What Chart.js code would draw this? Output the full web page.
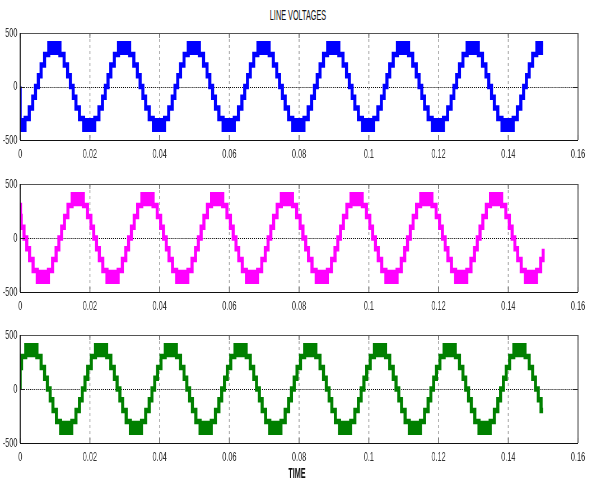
<!DOCTYPE html>
<html>
<head>
<meta charset="utf-8">
<script src="https://cdn.jsdelivr.net/npm/chart.js@4/dist/chart.umd.min.js"></script>
<style>
  html, body { margin: 0; padding: 0; background: #fff; }
  #wrap { position: relative; width: 592px; height: 482px; overflow: hidden; background: #fff; }
  canvas { position: absolute; left: 0; }
  .lbl {
    position: absolute; white-space: nowrap; line-height: 1;
    font-family: 'Liberation Sans', Arial, sans-serif; font-size: 14px; color: #111;
    transform: translate(-50%, -50%) scaleX(0.52);
  }
</style>
</head>
<body>
<div id="wrap">
  <div class="lbl" style="left:298px; top:15px;">LINE VOLTAGES</div>
  <canvas id="c1" width="1057" height="172" style="top:0px; width:592px; height:172px;"></canvas>
  <canvas id="c2" width="1057" height="157" style="top:165px; width:592px; height:157px;"></canvas>
  <canvas id="c3" width="1057" height="167" style="top:315px; width:592px; height:167px;"></canvas>
  <div class="lbl" style="left:297px; top:473px; font-weight:bold;">TIME</div>
</div>
<script>
// Axis ticks
const xTicks = [0, 0.02, 0.04, 0.06, 0.08, 0.10, 0.12, 0.14, 0.16];
const xTickLabels = ['0', '0.02', '0.04', '0.06', '0.08', '0.1', '0.12', '0.14', '0.16'];
const yTicks = [-500, 0, 500];
const yTickLabels = ['-500', '0', '500'];

// Line voltage staircases: switching instants (ms) and the level (V) that starts there
const timeAB = [0, 0, 1.4, 2.6, 3.6,
  4.4, 5.2, 6.0, 7.0, 8.2, 11.4, 12.6, 13.6, 14.4, 15.2, 16.0, 17.0, 18.2, 21.4, 22.6, 23.6,
  24.4, 25.2, 26.0, 27.0, 28.2, 31.4, 32.6, 33.6, 34.4, 35.2, 36.0, 37.0, 38.2, 41.4, 42.6, 43.6,
  44.4, 45.2, 46.0, 47.0, 48.2, 51.4, 52.6, 53.6, 54.4, 55.2, 56.0, 57.0, 58.2, 61.4, 62.6, 63.6,
  64.4, 65.2, 66.0, 67.0, 68.2, 71.4, 72.6, 73.6, 74.4, 75.2, 76.0, 77.0, 78.2, 81.4, 82.6, 83.6,
  84.4, 85.2, 86.0, 87.0, 88.2, 91.4, 92.6, 93.6, 94.4, 95.2, 96.0, 97.0, 98.2, 101.4, 102.6, 103.6,
  104.4, 105.2, 106.0, 107.0, 108.2, 111.4, 112.6, 113.6, 114.4, 115.2, 116.0, 117.0, 118.2, 121.4, 122.6, 123.6,
  124.4, 125.2, 126.0, 127.0, 128.2, 131.4, 132.6, 133.6, 134.4, 135.2, 136.0, 137.0, 138.2, 141.4, 142.6, 143.6,
  144.4, 145.2, 146.0, 147.0, 148.2, 150];
const voltAB = [0, -400, -300, -200, -100,
  0, 100, 200, 300, 400, 300, 200, 100, 0, -100, -200, -300, -400, -300, -200, -100,
  0, 100, 200, 300, 400, 300, 200, 100, 0, -100, -200, -300, -400, -300, -200, -100,
  0, 100, 200, 300, 400, 300, 200, 100, 0, -100, -200, -300, -400, -300, -200, -100,
  0, 100, 200, 300, 400, 300, 200, 100, 0, -100, -200, -300, -400, -300, -200, -100,
  0, 100, 200, 300, 400, 300, 200, 100, 0, -100, -200, -300, -400, -300, -200, -100,
  0, 100, 200, 300, 400, 300, 200, 100, 0, -100, -200, -300, -400, -300, -200, -100,
  0, 100, 200, 300, 400, 300, 200, 100, 0, -100, -200, -300, -400, -300, -200, -100,
  0, 100, 200, 300, 400, 400];

const timeBC = [0, 0.1, 0.3, 1.1, 1.9, 2.7, 3.7, 4.9, 8.1, 9.3, 10.3,
  11.1, 11.9, 12.7, 13.7, 14.9, 18.1, 19.3, 20.3, 21.1, 21.9, 22.7, 23.7, 24.9, 28.1, 29.3, 30.3,
  31.1, 31.9, 32.7, 33.7, 34.9, 38.1, 39.3, 40.3, 41.1, 41.9, 42.7, 43.7, 44.9, 48.1, 49.3, 50.3,
  51.1, 51.9, 52.7, 53.7, 54.9, 58.1, 59.3, 60.3, 61.1, 61.9, 62.7, 63.7, 64.9, 68.1, 69.3, 70.3,
  71.1, 71.9, 72.7, 73.7, 74.9, 78.1, 79.3, 80.3, 81.1, 81.9, 82.7, 83.7, 84.9, 88.1, 89.3, 90.3,
  91.1, 91.9, 92.7, 93.7, 94.9, 98.1, 99.3, 100.3, 101.1, 101.9, 102.7, 103.7, 104.9, 108.1, 109.3, 110.3,
  111.1, 111.9, 112.7, 113.7, 114.9, 118.1, 119.3, 120.3, 121.1, 121.9, 122.7, 123.7, 124.9, 128.1, 129.3, 130.3,
  131.1, 131.9, 132.7, 133.7, 134.9, 138.1, 139.3, 140.3, 141.1, 141.9, 142.7, 143.7, 144.9, 148.1, 149.3, 150];
const voltBC = [300, 200, 100, 0, -100, -200, -300, -400, -300, -200, -100,
  0, 100, 200, 300, 400, 300, 200, 100, 0, -100, -200, -300, -400, -300, -200, -100,
  0, 100, 200, 300, 400, 300, 200, 100, 0, -100, -200, -300, -400, -300, -200, -100,
  0, 100, 200, 300, 400, 300, 200, 100, 0, -100, -200, -300, -400, -300, -200, -100,
  0, 100, 200, 300, 400, 300, 200, 100, 0, -100, -200, -300, -400, -300, -200, -100,
  0, 100, 200, 300, 400, 300, 200, 100, 0, -100, -200, -300, -400, -300, -200, -100,
  0, 100, 200, 300, 400, 300, 200, 100, 0, -100, -200, -300, -400, -300, -200, -100,
  0, 100, 200, 300, 400, 300, 200, 100, 0, -100, -200, -300, -400, -300, -200, -100];

const timeCA = [0, 0, 0.4, 1.6, 4.8, 6.0, 7.0, 7.8, 8.6, 9.4, 10.4, 11.6, 14.8, 16.0, 17.0,
  17.8, 18.6, 19.4, 20.4, 21.6, 24.8, 26.0, 27.0, 27.8, 28.6, 29.4, 30.4, 31.6, 34.8, 36.0, 37.0,
  37.8, 38.6, 39.4, 40.4, 41.6, 44.8, 46.0, 47.0, 47.8, 48.6, 49.4, 50.4, 51.6, 54.8, 56.0, 57.0,
  57.8, 58.6, 59.4, 60.4, 61.6, 64.8, 66.0, 67.0, 67.8, 68.6, 69.4, 70.4, 71.6, 74.8, 76.0, 77.0,
  77.8, 78.6, 79.4, 80.4, 81.6, 84.8, 86.0, 87.0, 87.8, 88.6, 89.4, 90.4, 91.6, 94.8, 96.0, 97.0,
  97.8, 98.6, 99.4, 100.4, 101.6, 104.8, 106.0, 107.0, 107.8, 108.6, 109.4, 110.4, 111.6, 114.8, 116.0, 117.0,
  117.8, 118.6, 119.4, 120.4, 121.6, 124.8, 126.0, 127.0, 127.8, 128.6, 129.4, 130.4, 131.6, 134.8, 136.0, 137.0,
  137.8, 138.6, 139.4, 140.4, 141.6, 144.8, 146.0, 147.0, 147.8, 148.6, 149.4, 150];
const voltCA = [0, 200, 300, 400, 300, 200, 100, 0, -100, -200, -300, -400, -300, -200, -100,
  0, 100, 200, 300, 400, 300, 200, 100, 0, -100, -200, -300, -400, -300, -200, -100,
  0, 100, 200, 300, 400, 300, 200, 100, 0, -100, -200, -300, -400, -300, -200, -100,
  0, 100, 200, 300, 400, 300, 200, 100, 0, -100, -200, -300, -400, -300, -200, -100,
  0, 100, 200, 300, 400, 300, 200, 100, 0, -100, -200, -300, -400, -300, -200, -100,
  0, 100, 200, 300, 400, 300, 200, 100, 0, -100, -200, -300, -400, -300, -200, -100,
  0, 100, 200, 300, 400, 300, 200, 100, 0, -100, -200, -300, -400, -300, -200, -100,
  0, 100, 200, 300, 400, 300, 200, 100, 0, -100, -200, -200];

const TOP_LEVEL = 400;   // outermost level; PWM chops between it and the next one down
const LEVEL_STEP = 100;
const FONT = "'Liberation Sans', Arial, sans-serif";

// staircase points in seconds
function stairs(times, volts) {
  return times.map((t, i) => ({ x: t / 1000, y: volts[i] }));
}

// segments where the output is chopping between the two outermost levels
function chopBands(times, volts) {
  const out = [];
  for (let i = 0; i < volts.length - 1; i++) {
    if (Math.abs(volts[i]) === TOP_LEVEL) {
      const mid = volts[i] - Math.sign(volts[i]) * LEVEL_STEP / 2;
      out.push({ x: times[i] / 1000, y: mid });
      out.push({ x: times[i + 1] / 1000, y: mid });
      out.push({ x: times[i + 1] / 1000, y: null });
    }
  }
  return out;
}

// MATLAB-style box, dashed x grid, dotted zero line and inward tick marks
const axesBox = {
  id: 'axesBox',
  beforeDatasetsDraw(chart) {
    const { ctx, chartArea: a, scales: { x, y } } = chart;
    ctx.save();
    ctx.strokeStyle = '#a6a6a6';
    ctx.lineWidth = 1.7;
    ctx.setLineDash([3, 3]);
    x.ticks.forEach(t => {
      const px = x.getPixelForValue(t.value);
      if (px <= a.left + 1 || px >= a.right - 1) return;
      ctx.beginPath();
      ctx.moveTo(px, a.top);
      ctx.lineTo(px, a.bottom);
      ctx.stroke();
    });
    const y0 = Math.round(y.getPixelForValue(0)) + 0.5;
    ctx.strokeStyle = '#000';
    ctx.lineWidth = 1;
    ctx.setLineDash([1.8, 1.8]);
    ctx.beginPath();
    ctx.moveTo(a.left, y0);
    ctx.lineTo(a.right, y0);
    ctx.stroke();
    ctx.restore();
  },
  afterDatasetsDraw(chart) {
    const { ctx, chartArea: a, scales: { x, y } } = chart;
    ctx.save();
    ctx.setLineDash([]);
    // tick marks
    ctx.strokeStyle = '#777';
    ctx.lineWidth = 1.7;
    x.ticks.forEach(t => {
      const px = x.getPixelForValue(t.value);
      ctx.beginPath();
      ctx.moveTo(px, a.bottom); ctx.lineTo(px, a.bottom - 5);
      ctx.moveTo(px, a.top); ctx.lineTo(px, a.top + 5);
      ctx.stroke();
    });
    ctx.strokeStyle = '#222';
    ctx.lineWidth = 1;
    y.ticks.forEach(t => {
      const py = Math.round(y.getPixelForValue(t.value)) + 0.5;
      ctx.beginPath();
      ctx.moveTo(a.left, py); ctx.lineTo(a.left + 9, py);
      ctx.moveTo(a.right, py); ctx.lineTo(a.right - 9, py);
      ctx.stroke();
    });
    // box
    const t = Math.round(a.top) + 0.5, b = Math.round(a.bottom) + 0.5;
    ctx.strokeStyle = '#555';
    ctx.lineWidth = 1;
    ctx.beginPath(); ctx.moveTo(a.left, t); ctx.lineTo(a.right, t); ctx.stroke();
    ctx.lineWidth = 1.8;
    ctx.beginPath(); ctx.moveTo(a.right, a.top); ctx.lineTo(a.right, a.bottom); ctx.stroke();
    ctx.strokeStyle = '#111';
    ctx.lineWidth = 1;
    ctx.beginPath(); ctx.moveTo(a.left, b); ctx.lineTo(a.right, b); ctx.stroke();
    ctx.lineWidth = 1.8;
    ctx.beginPath(); ctx.moveTo(a.left, a.top); ctx.lineTo(a.left, a.bottom); ctx.stroke();
    ctx.restore();
  }
};

function makeChart(id, times, volts, color, pad) {
  return new Chart(document.getElementById(id), {
    type: 'line',
    data: {
      datasets: [
        { data: stairs(times, volts), stepped: 'before', borderColor: color, borderWidth: 5.5,
          borderJoinStyle: 'miter', pointRadius: 0, fill: false },
        { data: chopBands(times, volts), borderColor: color, borderWidth: 12,
          borderCapStyle: 'butt', pointRadius: 0, fill: false, spanGaps: false }
      ]
    },
    options: {
      responsive: false,
      animation: false,
      devicePixelRatio: 1,
      events: [],
      layout: { padding: pad },
      plugins: { legend: { display: false }, tooltip: { enabled: false }, title: { display: false } },
      scales: {
        x: {
          type: 'linear', min: 0, max: 0.16, offset: false,
          grid: { display: false, drawTicks: false }, border: { display: false },
          afterBuildTicks: s => { s.ticks = xTicks.map(v => ({ value: v })); },
          afterFit: s => { s.height = 28; },
          ticks: { autoSkip: false, maxRotation: 0, padding: 7, color: '#333',
                   font: { family: FONT, size: 13 },
                   callback: (v, i) => xTickLabels[i] }
        },
        y: {
          type: 'linear', min: -500, max: 500,
          grid: { display: false, drawTicks: false }, border: { display: false },
          afterBuildTicks: s => { s.ticks = yTicks.map(v => ({ value: v })); },
          afterFit: s => { s.width = 36; },
          ticks: { padding: 5, color: '#333', font: { family: FONT, size: 13 },
                   callback: (v, i) => yTickLabels[i] }
        }
      }
    },
    plugins: [axesBox]
  });
}

makeChart('c1', timeAB, voltAB, '#0000ff', { top: 33, bottom: 4, left: 0, right: 25 });
makeChart('c2', timeBC, voltBC, '#ff00ff', { top: 19, bottom: 2, left: 0, right: 25 });
makeChart('c3', timeCA, voltCA, '#008000', { top: 20, bottom: 11, left: 0, right: 25 });
</script>
</body>
</html>
